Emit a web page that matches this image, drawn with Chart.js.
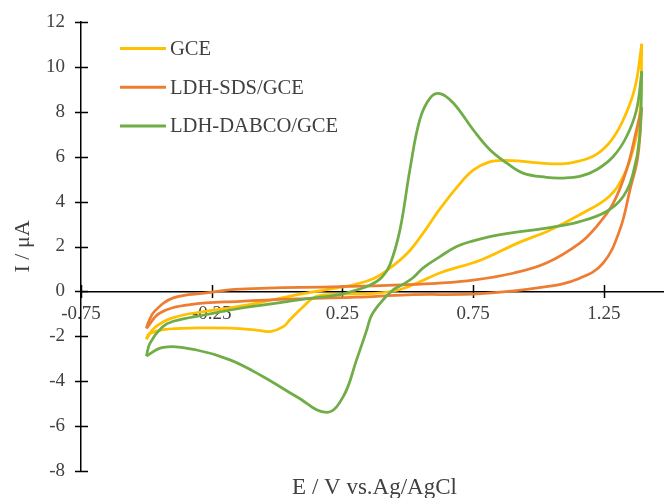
<!DOCTYPE html>
<html>
<head>
<meta charset="utf-8">
<script src="https://cdn.jsdelivr.net/npm/chart.js@4.4.1/dist/chart.umd.min.js"></script>
<style>
  html, body { margin: 0; padding: 0; background: #fff; overflow: hidden; }
  canvas { display: block; }
</style>
</head>
<body>
<canvas id="cv" width="664" height="498"></canvas>
<script>
// Cyclic voltammograms: potential E (V vs. Ag/AgCl) and current I (µA).
// Each electrode is stored as two sweeps, both listed with rising potential,
// sharing the same end points at the switching potentials.
const seriesNames  = ['GCE', 'LDH-SDS/GCE', 'LDH-DABCO/GCE'];
const seriesColors = ['#FFC000', '#ED7D31', '#70AD47'];

const gceFwdE = [-0.50, -0.47, -0.40, -0.27, -0.14, 0.05, 0.15, 0.24, 0.30, 0.37, 0.43, 0.50, 0.56, 0.62, 0.69, 0.75, 0.81, 0.87, 0.94, 1.00, 1.09, 1.15, 1.22, 1.28, 1.33, 1.37, 1.395];
const gceFwdI = [-2.13, -1.63, -1.18, -0.88, -0.66, -0.21, 0.00, 0.18, 0.32, 0.58, 1.02, 1.72, 2.62, 3.63, 4.67, 5.40, 5.76, 5.84, 5.79, 5.72, 5.68, 5.79, 6.09, 6.75, 7.79, 9.13, 11.03];
const gceRevE = [-0.50, -0.49, -0.435, -0.30, -0.18, -0.08, -0.027, 0.024, 0.05, 0.10, 0.15, 0.25, 0.35, 0.46, 0.55, 0.63, 0.78, 0.92, 1.045, 1.17, 1.27, 1.324, 1.362, 1.388, 1.395];
const gceRevI = [-2.13, -1.90, -1.70, -1.63, -1.64, -1.72, -1.79, -1.57, -1.25, -0.68, -0.23, -0.12, -0.10, 0.05, 0.45, 0.85, 1.40, 2.15, 2.74, 3.49, 4.23, 5.12, 6.31, 7.94, 11.03];

const sdsFwdE = [-0.50, -0.448, -0.333, -0.142, 0.113, 0.304, 0.50, 0.78, 1.03, 1.158, 1.247, 1.311, 1.35, 1.38, 1.395];
const sdsFwdI = [-1.65, -0.96, -0.59, -0.44, -0.32, -0.26, -0.15, -0.10, 0.21, 0.59, 1.26, 2.74, 4.53, 6.01, 8.21];
const sdsRevE = [-0.50, -0.493, -0.47, -0.397, -0.27, -0.142, 0.24, 0.50, 0.62, 0.75, 0.903, 1.03, 1.158, 1.222, 1.286, 1.337, 1.375, 1.395];
const sdsRevI = [-1.65, -1.40, -0.90, -0.29, -0.07, 0.10, 0.21, 0.30, 0.37, 0.50, 0.81, 1.26, 2.15, 2.89, 3.93, 5.42, 7.20, 8.21];

const dabcoFwdE = [-0.50, -0.486, -0.44, -0.397, -0.27, -0.14, 0.10, 0.24, 0.30, 0.35, 0.40, 0.432, 0.47, 0.508, 0.546, 0.585, 0.623, 0.674, 0.75, 0.814, 0.878, 0.941, 1.03, 1.094, 1.158, 1.222, 1.286, 1.337, 1.375, 1.395];
const dabcoFwdI = [-2.88, -2.30, -1.60, -1.33, -1.03, -0.75, -0.35, -0.14, 0.05, 0.25, 0.62, 1.20, 2.74, 5.42, 7.65, 8.61, 8.81, 8.39, 7.20, 6.31, 5.72, 5.27, 5.08, 5.05, 5.12, 5.42, 6.01, 6.90, 8.09, 9.80];
const dabcoRevE = [-0.50, -0.435, -0.308, -0.18, -0.053, 0.075, 0.19, 0.253, 0.304, 0.343, 0.36, 0.394, 0.444, 0.48, 0.521, 0.559, 0.623, 0.687, 0.75, 0.814, 0.903, 1.03, 1.158, 1.26, 1.324, 1.362, 1.387, 1.395];
const dabcoRevI = [-2.88, -2.49, -2.61, -3.05, -3.80, -4.69, -5.39, -4.69, -3.05, -1.72, -1.10, -0.53, 0.07, 0.30, 0.62, 1.05, 1.55, 2.00, 2.25, 2.44, 2.62, 2.82, 3.11, 3.56, 4.23, 5.27, 6.90, 9.80];

const xTicks = [-0.75, -0.25, 0.25, 0.75, 1.25];
const yTicks = [-8, -6, -4, -2, 0, 2, 4, 6, 8, 10, 12];

const xTitle = 'E / V vs.Ag/AgCl';
const yTitle = 'I / μA';

const FONT = "'Liberation Serif', 'Times New Roman', serif";
const TEXT = '#404040';

const toPoints = (es, is) => es.map((e, k) => ({ x: e, y: is[k] }));

const sweeps = [
  [gceFwdE, gceFwdI, 0], [gceRevE, gceRevI, 0],
  [sdsFwdE, sdsFwdI, 1], [sdsRevE, sdsRevI, 1],
  [dabcoFwdE, dabcoFwdI, 2], [dabcoRevE, dabcoRevI, 2]
];

const datasets = sweeps.map(([es, is, s]) => ({
  label: seriesNames[s],
  data: toPoints(es, is),
  showLine: true,
  borderColor: seriesColors[s],
  backgroundColor: seriesColors[s],
  borderWidth: 2.75,
  pointRadius: 0,
  tension: 0.4,
  fill: false,
  order: 3 - s   // later electrodes drawn on top
}));

// tick marks that cross both axis lines
const crossTicks = {
  id: 'crossTicks',
  beforeDatasetsDraw(chart) {
    const { ctx, scales: { x, y } } = chart;
    const y0 = y.getPixelForValue(0);
    const xl = x.left;
    ctx.save();
    ctx.strokeStyle = '#000';
    ctx.lineWidth = 1.5;
    ctx.beginPath();
    x.ticks.forEach(t => {
      const px = Math.round(x.getPixelForValue(t.value)) + 0.5;
      ctx.moveTo(px, y0 - 6.5); ctx.lineTo(px, y0 + 6.5);
    });
    y.ticks.forEach(t => {
      const py = Math.round(y.getPixelForValue(t.value)) + 0.5;
      ctx.moveTo(xl - 6, py); ctx.lineTo(xl + 7, py);
    });
    ctx.stroke();
    ctx.restore();
  }
};

// legend inside the plot and the horizontal axis title at the foot
const decorations = {
  id: 'decorations',
  afterDraw(chart) {
    const { ctx, chartArea } = chart;
    ctx.save();
    seriesNames.forEach((name, i) => {
      const yy = 48.5 + i * 38.7;
      ctx.strokeStyle = seriesColors[i];
      ctx.lineWidth = 3;
      ctx.beginPath(); ctx.moveTo(120, yy); ctx.lineTo(166, yy); ctx.stroke();
      ctx.fillStyle = TEXT;
      ctx.font = `20.6px ${FONT}`;
      ctx.textBaseline = 'middle';
      ctx.textAlign = 'left';
      ctx.fillText(name, 170, yy + 1);
    });
    ctx.font = `23px ${FONT}`;
    ctx.fillStyle = TEXT;
    ctx.textAlign = 'center';
    ctx.textBaseline = 'alphabetic';
    ctx.fillText(xTitle, (chartArea.left + chartArea.right) / 2 + 2, 494);
    ctx.restore();
  }
};

new Chart(document.getElementById('cv'), {
  type: 'scatter',
  data: { datasets },
  options: {
    responsive: false,
    animation: false,
    layout: { padding: { top: 22, right: 0, bottom: 27, left: 0 } },
    plugins: { legend: { display: false }, tooltip: { enabled: false } },
    scales: {
      x: {
        type: 'linear',
        min: -0.75,
        max: 1.48,
        position: { y: 0 },
        afterBuildTicks: s => { s.ticks = xTicks.map(v => ({ value: v })); },
        grid: { display: false, drawTicks: true, tickLength: 11 },
        border: { display: true, color: '#000', width: 1.5 },
        ticks: {
          font: { family: FONT, size: 19 }, color: TEXT, padding: 0,
          maxRotation: 0, autoSkip: false,
          callback: v => String(v)
        }
      },
      y: {
        type: 'linear',
        min: -8,
        max: 12,
        position: 'left',
        afterBuildTicks: s => { s.ticks = yTicks.map(v => ({ value: v })); },
        afterFit: s => { s.width = 81; },
        grid: { display: false, drawTicks: true, tickLength: 6 },
        border: { display: true, color: '#000', width: 1.5 },
        ticks: { font: { family: FONT, size: 19 }, color: TEXT, padding: 10 },
        title: {
          display: true, text: yTitle,
          font: { family: FONT, size: 22 }, color: TEXT,
          padding: { top: 10, bottom: 0 }
        }
      }
    }
  },
  plugins: [crossTicks, decorations]
});
</script>
</body>
</html>
